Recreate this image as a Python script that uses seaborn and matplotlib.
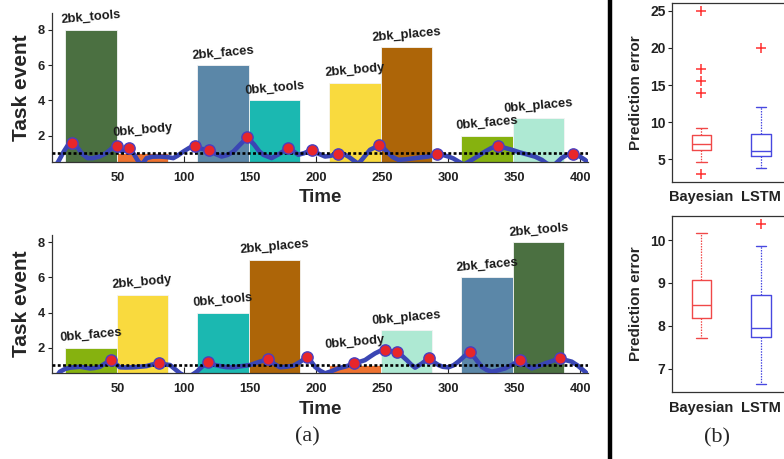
import numpy as np
import pandas as pd
import matplotlib
matplotlib.use("Agg")
import matplotlib.pyplot as plt
import seaborn as sns
from matplotlib.lines import Line2D

# ---------------- data ----------------
block_dur = 39
top_tasks = ["2bk_tools", "0bk_body", "2bk_faces", "0bk_tools",
             "2bk_body", "2bk_places", "0bk_faces", "0bk_places"]
top_starts = [10, 49, 110, 149, 210, 249, 310, 349]
top_heights = [8, 1, 6, 4, 5, 7, 2, 3]

bot_tasks = ["0bk_faces", "2bk_body", "0bk_tools", "2bk_places",
             "0bk_body", "0bk_places", "2bk_faces", "2bk_tools"]
bot_starts = [10, 49, 110, 149, 210, 249, 310, 349]
bot_heights = [2, 5, 4, 7, 1, 3, 6, 8]

task_colors = {
    "2bk_tools": "#4b7041", "0bk_body": "#ee7230", "2bk_faces": "#5b87a8",
    "0bk_tools": "#1bb8b1", "2bk_body": "#f9da3e", "2bk_places": "#ad6508",
    "0bk_faces": "#86b20f", "0bk_places": "#aee9d3",
}

top_curve_t = [3, 5, 9, 12, 15, 19, 23, 27, 31, 36, 41, 45, 49, 52.8, 55, 58.6, 62,
               65.4, 68, 71.7, 76, 81.8, 87, 91.9, 95, 99.5, 104, 108.3, 113, 119.2,
               124, 128.5, 133, 137.4, 142, 148, 153, 157, 160, 166.4, 172, 178.5, 182,
               186.6, 191, 196.7, 201, 206.8, 211, 216.9, 221, 224.5, 229.5, 232, 234.6,
               240.9, 248, 251, 254.8, 258, 262.4, 268, 275, 285, 291.9, 296, 300.2,
               304, 307.8, 312, 318, 323, 328, 333, 338.1, 343, 348.3, 354, 360.8, 366,
               371, 375, 380, 386, 390, 395, 399, 403.8, 406]
top_curve_v = [0.3, 0.55, 1.1, 1.45, 1.57, 1.35, 0.95, 0.72, 0.72, 0.81, 1.0, 1.25, 1.38,
               1.1, 1.15, 1.28, 0.95, 0.53, 0.35, 0.72, 0.8, 0.81, 0.78, 0.72, 0.85, 1.09,
               1.3, 1.42, 1.25, 1.17, 0.95, 0.81, 0.9, 1.09, 1.45, 1.9, 1.5, 1.1, 0.91,
               0.72, 0.95, 1.27, 1.15, 0.91, 1.0, 1.19, 1.0, 0.81, 0.85, 0.98, 0.95, 0.81,
               0.53, 0.4, 0.62, 1.19, 1.45, 1.3, 1.0, 0.78, 0.62, 0.65, 0.72, 0.81, 0.95,
               0.9, 0.81, 0.7, 0.53, 0.35, 0.62, 0.85, 1.09, 1.3, 1.4, 1.3, 1.19, 1.05,
               0.91, 0.8, 0.62, 0.4, 0.3, 0.72, 0.9, 0.98, 0.85, 0.62, 0.45]
top_pts_t = [15, 49, 58.6, 108.3, 119.2, 148, 178.5, 196.7, 216.9, 248, 291.9, 338.1, 395]
top_pts_v = [1.57, 1.38, 1.28, 1.42, 1.17, 1.9, 1.27, 1.19, 0.98, 1.45, 0.95, 1.4, 0.98]

bot_curve_t = [3, 6, 10, 13.6, 21.2, 28.8, 32, 36.4, 40, 44.7, 48, 51.5, 56, 61.6, 66,
               71.7, 76, 81, 85, 89.4, 93, 97, 103, 109.6, 114, 118.4, 122, 127.3, 132,
               137.4, 143, 150, 157, 163.9, 168, 172.7, 177, 182.8, 188, 193, 196, 199.2,
               203, 206.8, 211, 216.9, 223, 229, 233, 237.1, 241, 244.7, 248.5, 252.3,
               256.5, 261.1, 265, 268.7, 272, 275, 280, 285.8, 289, 292.7, 296, 300.2,
               304, 307.8, 312, 316.7, 321, 325.5, 329, 333.1, 338, 343.2, 349, 354.3,
               358, 363.4, 368, 373.5, 379, 384.8, 389, 393.7, 398, 403.8, 406]
bot_curve_v = [0.3, 0.64, 0.8, 0.87, 0.92, 0.83, 0.85, 0.92, 1.1, 1.3, 1.1, 0.89, 0.88,
               0.89, 0.92, 0.96, 1.05, 1.11, 1.06, 1.02, 0.8, 0.55, 0.3, 0.64, 0.95, 1.17,
               1.05, 0.96, 0.9, 0.89, 0.95, 1.02, 1.2, 1.36, 1.1, 0.89, 0.92, 0.98, 1.2,
               1.49, 1.25, 0.92, 0.7, 0.55, 0.65, 0.83, 0.95, 1.11, 1.2, 1.3, 1.5, 1.68,
               1.82, 1.87, 1.8, 1.77, 1.55, 1.3, 1.05, 0.87, 1.1, 1.43, 1.2, 1.02, 0.92,
               0.89, 1.0, 1.21, 1.5, 1.77, 1.35, 0.92, 0.75, 0.64, 0.72, 0.83, 1.05, 1.3,
               1.1, 0.83, 0.95, 1.11, 1.25, 1.4, 1.3, 1.21, 1.0, 0.64, 0.45]
bot_pts_t = [44.7, 81, 118.4, 163.9, 193, 229, 252.3, 261.1, 285.8, 316.7, 354.3, 384.8]
bot_pts_v = [1.30, 1.11, 1.17, 1.36, 1.49, 1.11, 1.87, 1.77, 1.43, 1.77, 1.30, 1.40]

threshold = 1.0
time_ticks = [50, 100, 150, 200, 250, 300, 350, 400]
event_ticks = [2, 4, 6, 8]

box_labels = ["Bayesian", "LSTM"]
b1_whislo = [4.6, 3.8]
b1_q1 = [6.3, 5.45]
b1_med = [7.05, 6.1]
b1_q3 = [8.32, 8.37]
b1_whishi = [9.25, 12.1]
b1_fliers = [[25.0, 17.2, 15.5, 14.0, 3.1], [20.0]]
b1_ticks = [5, 10, 15, 20, 25]

b2_whislo = [7.72, 6.65]
b2_q1 = [8.19, 7.75]
b2_med = [8.48, 7.96]
b2_q3 = [9.07, 8.71]
b2_whishi = [10.17, 9.86]
b2_fliers = [[], [10.37]]
b2_ticks = [7, 8, 9, 10]

box_colors = ["#f04848", "#4848e0"]

# ---------------- style ----------------
sns.set_theme(style="ticks")
plt.rcParams["font.family"] = ["Liberation Sans", "DejaVu Sans"]
plt.rcParams["font.weight"] = "bold"

fig = plt.figure(figsize=(7.84, 4.59), dpi=100)

curve_color = "#3a46b4"
marker_color = "#e8262a"


def task_panel(ax, tasks, starts, heights, ct, cv, pt, pv, ylim):
    df = pd.DataFrame({"center": [s + block_dur / 2 for s in starts],
                       "height": heights, "task": tasks})
    sns.barplot(data=df, x="center", y="height", hue="task", palette=task_colors,
                native_scale=True, width=1.0, dodge=False, legend=False,
                errorbar=None, saturation=1, edgecolor="#f4f4f4", linewidth=0.6,
                ax=ax, zorder=1)
    sns.lineplot(x=ct, y=cv, sort=False, estimator=None, color=curve_color,
                 linewidth=3.3, ax=ax, zorder=3)
    ax.axhline(threshold, color="black", linestyle=(0, (1.1, 0.9)), linewidth=1.9, zorder=4)
    sns.scatterplot(x=pt, y=pv, s=66, color=marker_color, edgecolor="#4a3fc0",
                    linewidth=1.0, ax=ax, zorder=5)
    for name, s, h in zip(tasks, starts, heights):
        ax.text(s + block_dur / 2, max(h, 1.6) + 0.7, name, ha="center", va="center",
                rotation=5, fontsize=9.3, fontweight="bold", color="#1a1a1a", zorder=6)
    ax.set_xlim(0, 406)
    ax.set_ylim(*ylim)
    ax.set_xticks(time_ticks)
    ax.set_yticks(event_ticks)
    ax.tick_params(axis="x", direction="in", length=4, width=0.8, pad=7,
                   labelsize=9.3, colors="#222222")
    ax.tick_params(axis="y", direction="out", length=3, width=0.8, pad=2,
                   labelsize=9.3, colors="#222222")
    for lab in ax.get_xticklabels() + ax.get_yticklabels():
        lab.set_fontweight("bold")
    sns.despine(ax=ax)
    for sp in ["left", "bottom"]:
        ax.spines[sp].set_color("#333333")
        ax.spines[sp].set_linewidth(0.9)
    ax.set_xlabel("Time", fontsize=13.5, fontweight="bold", labelpad=4)
    ax.set_ylabel("Task event", fontsize=15, fontweight="bold", labelpad=5)


ax1 = fig.add_axes([0.0663, 0.6471, 0.6837, 0.3246])
task_panel(ax1, top_tasks, top_starts, top_heights, top_curve_t, top_curve_v,
           top_pts_t, top_pts_v, (0.5, 8.95))
ax2 = fig.add_axes([0.0663, 0.1867, 0.6837, 0.3013])
task_panel(ax2, bot_tasks, bot_starts, bot_heights, bot_curve_t, bot_curve_v,
           bot_pts_t, bot_pts_v, (0.55, 8.4))


def box_panel(ax, whislo, q1, med, q3, whishi, fliers, ylim, ticks):
    stats = []
    for i in range(len(box_labels)):
        stats.append(dict(whislo=whislo[i], q1=q1[i], med=med[i], q3=q3[i],
                          whishi=whishi[i], fliers=fliers[i], label=box_labels[i]))
    art = ax.bxp(stats, positions=[1, 2], widths=0.32, capwidths=0.18,
                 showfliers=True, patch_artist=False)
    for i, c in enumerate(box_colors):
        art["boxes"][i].set(color=c, linewidth=1.0)
        art["medians"][i].set(color=c, linewidth=1.0)
        for w in art["whiskers"][2 * i:2 * i + 2]:
            w.set(color=c, linewidth=0.9, linestyle=(0, (1.2, 1.0)))
        for cp in art["caps"][2 * i:2 * i + 2]:
            cp.set(color=c, linewidth=1.0)
        art["fliers"][i].set(marker="+", markeredgecolor="#ff3030", markersize=7,
                             markeredgewidth=1.1, linestyle="none")
    ax.set_xlim(0.5, 2.5)
    ax.set_ylim(*ylim)
    ax.set_yticks(ticks)
    ax.set_xticks([1, 2])
    ax.set_xticklabels(box_labels)
    ax.tick_params(axis="y", direction="out", length=3, width=0.8, pad=1.5,
                   labelsize=10, colors="#222222")
    ax.tick_params(axis="x", direction="in", length=0, pad=6, labelsize=10.5,
                   colors="#222222")
    for lab in ax.get_xticklabels() + ax.get_yticklabels():
        lab.set_fontweight("bold")
    for sp in ax.spines.values():
        sp.set_color("#333333")
        sp.set_linewidth(0.9)
    ax.set_ylabel("Prediction error", fontsize=11, fontweight="bold", labelpad=5)


ax3 = fig.add_axes([0.8568, 0.6041, 0.1518, 0.3893])
box_panel(ax3, b1_whislo, b1_q1, b1_med, b1_q3, b1_whishi, b1_fliers, (2.0, 26.05), b1_ticks)
ax4 = fig.add_axes([0.8568, 0.1453, 0.1518, 0.3841])
box_panel(ax4, b2_whislo, b2_q1, b2_med, b2_q3, b2_whishi, b2_fliers, (6.45, 10.56), b2_ticks)

fig.add_artist(Line2D([0.778, 0.778], [0, 1], color="black", linewidth=3.2,
                      transform=fig.transFigure))
fig.text(0.3916, 0.048, "(a)", ha="center", va="center", fontsize=16,
         family=["Liberation Serif", "DejaVu Serif"], fontweight="normal")
fig.text(0.9145, 0.046, "(b)", ha="center", va="center", fontsize=16,
         family=["Liberation Serif", "DejaVu Serif"], fontweight="normal")

fig.savefig("out.png", dpi=100)
